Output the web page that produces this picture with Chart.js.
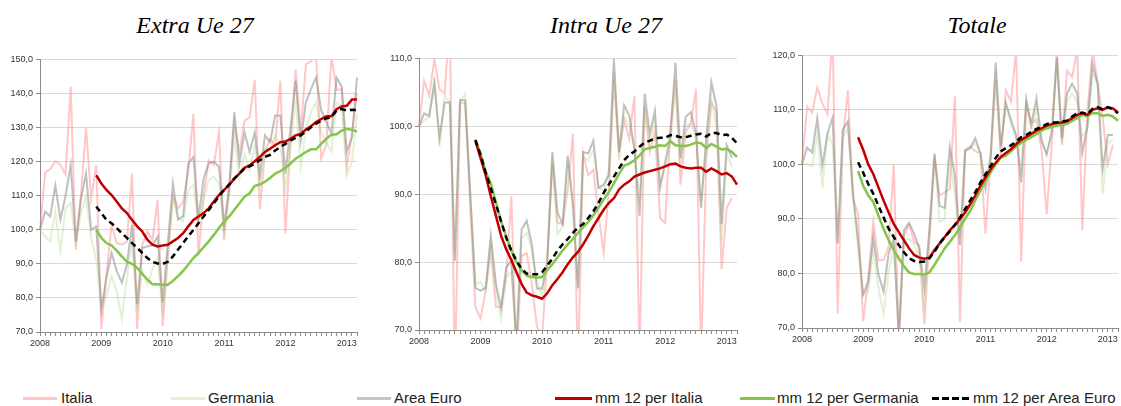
<!DOCTYPE html>
<html>
<head>
<meta charset="utf-8">
<script src="https://cdn.jsdelivr.net/npm/chart.js@4.4.0/dist/chart.umd.min.js"></script>
<style>
  body { margin: 0; background: #fff; width: 1121px; height: 406px; position: relative; overflow: hidden; font-family: "Liberation Sans", Arial, sans-serif; }
  .title { position: absolute; top: 12px; font: italic 24px "Liberation Serif", "Times New Roman", serif; color: #000; transform: translateX(-50%); white-space: nowrap; }
  .box { position: absolute; }
  .leg-line { position: absolute; height: 3px; top: 397px; }
  .leg-text { position: absolute; top: 389px; font-size: 15px; line-height: 18px; color: #222; white-space: nowrap; }
</style>
</head>
<body>
<div class="title" style="left:195px">Extra Ue 27</div>
<div class="title" style="left:606px">Intra Ue 27</div>
<div class="title" style="left:977px">Totale</div>

<div class="box" style="left:0px;top:51px;width:362px;height:301px"><canvas id="chartExtra"></canvas></div>
<div class="box" style="left:379px;top:50px;width:363px;height:300px"><canvas id="chartIntra"></canvas></div>
<div class="box" style="left:762px;top:47px;width:359px;height:301px"><canvas id="chartTot"></canvas></div>

<div class="leg-line" style="left:23px;width:34px;background:#ffc4c4"></div>
<div class="leg-text" style="left:61px">Italia</div>
<div class="leg-line" style="left:171px;width:34px;background:#e3f1d6"></div>
<div class="leg-text" style="left:208px">Germania</div>
<div class="leg-line" style="left:357px;width:34px;background:#c4c4c4"></div>
<div class="leg-text" style="left:394px">Area Euro</div>
<div class="leg-line" style="left:555px;width:37px;background:#c00000"></div>
<div class="leg-text" style="left:595px">mm 12 per Italia</div>
<div class="leg-line" style="left:740px;width:35px;background:#84c64a"></div>
<div class="leg-text" style="left:777px">mm 12 per Germania</div>
<div class="leg-line" style="left:932px;width:38px;background:repeating-linear-gradient(90deg,#000 0 7px,transparent 7px 10px)"></div>
<div class="leg-text" style="left:973px">mm 12 per Area Euro</div>

<script>
// anni sull'asse, mesi da gen 2008 a mar 2013
const years = ['2008', '2009', '2010', '2011', '2012', '2013'];
const nMonths = 63;
const mmStart = 11; // la media mobile parte da dic 2008

// Extra Ue 27
const extraItalia = [100, 116.8, 117.8, 120.1, 119.1, 116.2, 142, 94.2, 110, 130.1, 109.2, 119, 70.9, 87, 101.5, 96.1, 95.6, 96.6, 116.5, 70.9, 95.6, 99.5, 97, 108.7, 71.8, 92, 110, 106.3, 108.3, 117, 134, 92.5, 110, 120.4, 119, 128.6, 97, 113, 131, 122.8, 132, 133, 144, 106, 122.8, 126.7, 124.8, 143.7, 99, 125.7, 147, 128.6, 148.5, 149.5, 151, 121, 125, 151, 141, 141.3, 118.4, 128, 140];
const extraGermania = [100, 98, 96.6, 105.3, 93.7, 106.3, 107.8, 96.1, 104.9, 109.7, 97.6, 91.3, 77.2, 80.6, 86.4, 82, 73.8, 85.9, 97.1, 76.2, 87.9, 84, 88.3, 91.7, 75.2, 92, 109.2, 103.4, 102.4, 111.6, 113.1, 102.4, 108.7, 114.6, 115.5, 113.6, 99.5, 110.2, 127.7, 115, 122.3, 117.5, 124.8, 113.6, 123.8, 123.3, 127.7, 125.2, 112.1, 124.3, 138.3, 118.4, 129.6, 134.5, 137.4, 128.6, 125.7, 122.8, 137.4, 136.4, 116, 119.9, 134];
const extraEuro = [100, 105.3, 103.9, 113, 103, 110, 119, 96.5, 109, 116.5, 100, 101, 76.7, 86, 93.2, 87.9, 84.5, 89.8, 101.5, 78.2, 94.7, 95.1, 95.5, 98, 78.6, 96, 113.6, 103, 104, 119.4, 121.4, 103.4, 115, 119.5, 120, 118.5, 101.5, 112, 134.5, 119.4, 128.6, 122.8, 128.6, 116, 127.7, 125.7, 133.5, 133.5, 116.5, 130, 143.7, 126.2, 137.4, 141.3, 144.7, 135, 131.6, 128.2, 144.7, 142, 123, 127, 144.7];
const extraMmItalia = [116, 113.6, 111.7, 110.2, 108.3, 106.3, 104.9, 102.9, 101, 99.5, 97.1, 95.6, 95.1, 95.4, 95.6, 96.6, 97.6, 99, 101, 102.9, 103.9, 104.9, 106.3, 108.3, 110.2, 111.7, 113.1, 115, 116.5, 118.2, 118.9, 120.1, 121.4, 122.8, 123.8, 124.8, 125.7, 125.9, 126.7, 127.7, 128.1, 129.4, 130.4, 131.6, 132.5, 133.3, 133.3, 135.4, 136.2, 136.4, 138.2, 138.2];
const extraMmGermania = [100, 97.6, 96.1, 95.4, 93.9, 92.2, 90.6, 90, 88.8, 87.1, 85.4, 84, 84, 83.9, 83.9, 85, 86.4, 87.9, 89.8, 91.7, 93.2, 94.9, 96.6, 98.5, 100.5, 102.4, 103.9, 105.8, 107.8, 109.7, 110.7, 112.9, 113.3, 114.1, 115.2, 116.5, 117.2, 118.2, 119.4, 120.9, 121.8, 122.8, 123.6, 123.6, 125.2, 126.7, 127.9, 128, 129.1, 129.6, 129.4, 128.8];
const extraMmEuro = [106.8, 104.9, 102.9, 101.9, 100.5, 99, 97.6, 96.1, 94.7, 93.2, 91.7, 90.6, 90.1, 90, 90.6, 92.2, 94.2, 96.1, 98.1, 100, 101.9, 103.9, 105.8, 107.8, 109.7, 111.7, 113.3, 115, 116.5, 118, 118.6, 119.4, 120.4, 121.4, 122, 123.3, 124.3, 125.2, 126.2, 127, 127.7, 128.8, 130.1, 131.1, 132, 132.7, 133, 135, 135.4, 135, 135.2, 135.1];

// Intra Ue 27
const intraItalia = [100, 106.7, 104.5, 109.9, 105.5, 104.8, 116, 62, 103.5, 103.3, 88, 73.4, 71.7, 75.8, 81.7, 73.4, 73.4, 77.8, 89.7, 65, 80.9, 81.3, 76.8, 70.5, 69, 80, 94.5, 85.8, 85.6, 90.7, 98.9, 64, 96, 92.8, 93.6, 87, 81.4, 90.4, 106.9, 96.2, 100.9, 98.2, 104.5, 66, 102.8, 96.2, 99.2, 86.5, 85.8, 99.7, 106.9, 91.4, 99.2, 100.4, 105.5, 66, 94.8, 103.5, 102.1, 79, 88, 89.4, null];
const intraGermania = [100, 100.9, 101.4, 107.4, 97, 104.5, 103.5, 81.2, 103.5, 104.8, 90, 76.6, 77.1, 75.8, 82.9, 75.8, 71.7, 77.8, 78.5, 68.5, 83.6, 84.3, 81.7, 77.3, 74.9, 80, 95.3, 84.1, 85.3, 94.8, 88, 75.8, 95.5, 95, 96.5, 91, 90.5, 93.5, 108, 95, 101.5, 100, 97, 89, 103, 97.5, 101, 91.5, 94, 97, 106, 94.5, 100, 100.5, 98, 89, 97, 104, 100, 83, 96, 94, null];
const intraEuro = [100, 101.9, 101.5, 106.2, 98.3, 103.5, 103.5, 80.2, 103.9, 103.8, 90, 76.2, 75.8, 76.2, 83.9, 76.8, 73.2, 79.2, 80.2, 68, 84.8, 86.1, 82.6, 76.1, 76.1, 80, 96.2, 87.3, 85.6, 95.7, 88.7, 76.2, 96.2, 96, 97.9, 90.9, 91.4, 92.8, 109.9, 96.2, 103.1, 101.6, 96.5, 86.8, 104.8, 98.9, 102.3, 90.9, 94.8, 98.5, 109.4, 95.3, 101.4, 102.1, 98.9, 88, 98.2, 106.5, 103, 85.6, 97.2, 95.3, null];
const intraMmItalia = [97.8, 95.3, 92.8, 89.7, 86.8, 83.9, 81.9, 80.3, 78.5, 76.8, 75.5, 75.1, 74.9, 74.6, 75.4, 76.6, 77.5, 78.5, 79.7, 80.7, 81.5, 82.6, 83.9, 85.3, 86.5, 87.7, 88.7, 89.4, 90.7, 91.4, 91.9, 92.6, 92.9, 93.2, 93.4, 93.6, 93.8, 94.1, 94.4, 94.5, 94.1, 93.9, 93.8, 93.9, 93.9, 93.3, 93.8, 93.4, 92.9, 93.1, 92.6, 91.4];
const intraMmGermania = [98, 96, 93.3, 91.6, 88.8, 86, 83.8, 81.7, 80, 78.8, 78, 77.8, 77.7, 77.8, 78.8, 79.7, 80.7, 81.7, 82.6, 83.4, 84.3, 85.1, 85.9, 86.9, 88, 89.2, 90.3, 91.6, 93, 94.2, 94.5, 95, 95.7, 96.6, 96.8, 97, 97.2, 97.1, 97.8, 97.2, 97.1, 97.1, 97.3, 97.6, 97.5, 96.8, 97.4, 97, 96.6, 96.7, 96.2, 95.5];
const intraMmEuro = [98, 95.8, 93.2, 90.9, 88.5, 86, 83.6, 81.7, 80.2, 79, 78.3, 78.2, 78.2, 78.5, 79.5, 80.5, 81.7, 82.6, 83.4, 84.3, 85.1, 85.6, 86.5, 87.5, 88.7, 90.2, 91.4, 92.6, 93.8, 95, 95.8, 96.3, 97, 97.6, 97.9, 98.2, 98.3, 98.3, 98.7, 98.6, 98.4, 98.4, 98.6, 98.8, 98.9, 98.5, 99, 99, 98.7, 98.8, 98.3, 97.5];

// Totale
const totItalia = [100, 110.6, 109.5, 114.1, 111.2, 109.2, 124, 72.6, 104.5, 113.6, 93.7, 91, 71.2, 79.2, 89.5, 82.4, 82.5, 84.9, 100, 67, 87, 88.9, 85.8, 85.2, 70.7, 86, 101.2, 94.3, 94.9, 95.5, 112.5, 71, 102.7, 103.3, 102.4, 102.1, 87.3, 100.9, 115.4, 101.5, 113.6, 111.5, 121, 82.2, 110.9, 107.6, 108.2, 102.7, 90.9, 103.6, 121, 103.6, 117.2, 116, 121, 87.9, 109.7, 121, 115.1, 108.5, 100, 103.6, null];
const totGermania = [100, 100.1, 99.6, 105.7, 95.8, 105.4, 103.6, 87, 105.1, 106.6, 94, 84.6, 76.1, 76.7, 84.6, 77.3, 72.5, 80.4, 84.9, 70.7, 86.1, 86.4, 85.2, 83.4, 73.7, 88, 101.8, 89.4, 90, 101.5, 94.3, 86.4, 102.7, 103, 103.9, 102, 96.7, 100.9, 117.2, 102.1, 111.2, 107.3, 104.8, 99.1, 111.8, 105.7, 110.6, 103.9, 102.1, 105.7, 119, 103.9, 111.5, 113, 111.5, 105.1, 106.3, 116.9, 114.8, 94.6, 103.9, 104.5, null];
const totEuro = [100, 103.1, 102.2, 108.5, 99.8, 105.7, 108.6, 85.5, 106.3, 107.9, 94.9, 86, 76.1, 78.5, 86.7, 79.8, 76.7, 83.7, 86.4, 68, 87.9, 89.3, 87.3, 84.6, 77.3, 88, 102, 92.4, 92, 103.2, 98, 85.2, 102.4, 103, 104.8, 102.1, 95.5, 101.5, 118.7, 103.3, 111.2, 108.2, 105.4, 96.7, 111.8, 107.3, 112.1, 104.5, 101.8, 106, 119.6, 104.8, 113, 114.8, 113, 102.1, 107, 118.4, 114.8, 99.2, 105.4, 105.4, null];
const totMmItalia = [105, 102.7, 100, 98.2, 95.8, 93.4, 91.2, 89.1, 87.6, 86.1, 84.6, 83.4, 82.9, 82.7, 82.9, 84.3, 85.5, 86.7, 87.9, 88.9, 90, 91.2, 92.7, 94.3, 96.1, 97.6, 99.1, 100.3, 101.4, 102.1, 102.8, 103.7, 104.5, 105, 105.6, 106.2, 106.6, 107.1, 107.4, 107.6, 107.7, 107.9, 108.5, 109.1, 109.4, 109.1, 110, 110.3, 110, 110.5, 110.3, 109.5];
const totMmGermania = [98.8, 96.1, 94.3, 93.1, 90.6, 88.2, 86.1, 84.3, 82.8, 81.3, 80.2, 79.9, 79.9, 79.8, 80.2, 81.6, 83.1, 84.6, 85.8, 87, 88.5, 90, 91.5, 93.4, 95.2, 97, 98.5, 100, 101.2, 101.6, 102.4, 103.3, 104, 104.5, 105, 105.6, 106.2, 106.6, 106.9, 107.1, 107.3, 107.4, 108, 108.5, 109.1, 108.8, 109.4, 109.4, 108.9, 109.1, 108.8, 108];
const totMmEuro = [100.4, 98.5, 96.4, 94.6, 92.4, 90.3, 88.2, 86.7, 85.2, 83.9, 82.8, 82.3, 82.1, 82.2, 82.8, 84, 85.5, 86.7, 87.7, 88.9, 90.3, 91.8, 93.4, 94.9, 96.7, 98.2, 99.7, 101.2, 102.4, 103, 103.5, 104.2, 105, 105.4, 106, 106.5, 106.9, 107.4, 107.7, 107.7, 107.9, 108, 108.8, 109.4, 109.5, 109.2, 110.2, 110.5, 110.1, 110.5, 110.1, 109.4];

const monthLabels = [];
for (let i = 0; i < nMonths; i++) {
    monthLabels.push(i % 12 === 0 ? years[i / 12] : '');
}

function padMm(values) {
    return Array(mmStart).fill(null).concat(values);
}

function rawSet(label, data, color) {
    return { label: label, data: data, borderColor: color, borderWidth: 2, pointRadius: 0, tension: 0, order: 2, spanGaps: false };
}

function mmSet(label, data, color, dash) {
    return { label: label, data: padMm(data), borderColor: color, borderWidth: 2.5, borderDash: dash || [], pointRadius: 0, tension: 0, order: 1 };
}

function drawPanel(canvasId, yMin, yMax, it, de, eu, mmIt, mmDe, mmEu) {
    const ctx = document.getElementById(canvasId).getContext('2d');
    new Chart(ctx, {
        type: 'line',
        data: {
            labels: monthLabels,
            datasets: [
                mmSet('mm 12 per Area Euro', mmEu, '#000000', [6, 4]),
                mmSet('mm 12 per Italia', mmIt, '#c00000'),
                mmSet('mm 12 per Germania', mmDe, '#84c64a'),
                rawSet('Area Euro', eu, 'rgba(140,140,140,0.55)'),
                rawSet('Germania', de, 'rgba(170,215,130,0.35)'),
                rawSet('Italia', it, 'rgba(255,130,130,0.45)')
            ]
        },
        options: {
            responsive: true,
            maintainAspectRatio: false,
            animation: false,
            layout: { padding: { top: 6, right: canvasId === 'chartTot' ? 3 : 5, left: 0, bottom: 0 } },
            plugins: { legend: { display: false }, tooltip: { enabled: false } },
            scales: {
                x: {
                    grid: { drawOnChartArea: false, drawTicks: true, tickLength: 4, color: '#8c8c8c' },
                    border: { color: '#8c8c8c' },
                    ticks: { autoSkip: false, maxRotation: 0, padding: 2, color: '#333', font: { family: 'Liberation Sans', size: 9 } },
                    afterFit: (scale) => { scale.height = 20; }
                },
                y: {
                    min: yMin,
                    max: yMax,
                    grid: { color: '#d9d9d9', tickLength: 4, tickColor: '#8c8c8c' },
                    border: { color: '#8c8c8c' },
                    ticks: {
                        stepSize: 10,
                        padding: 3,
                        color: '#333',
                        font: { family: 'Liberation Sans', size: 9 },
                        callback: (v) => v.toFixed(1).replace('.', ',')
                    },
                    afterFit: (scale) => { scale.width = 40; }
                }
            }
        }
    });
}

drawPanel('chartExtra', 70, 150, extraItalia, extraGermania, extraEuro, extraMmItalia, extraMmGermania, extraMmEuro);
drawPanel('chartIntra', 70, 110, intraItalia, intraGermania, intraEuro, intraMmItalia, intraMmGermania, intraMmEuro);
drawPanel('chartTot', 70, 120, totItalia, totGermania, totEuro, totMmItalia, totMmGermania, totMmEuro);
</script>
</body>
</html>
